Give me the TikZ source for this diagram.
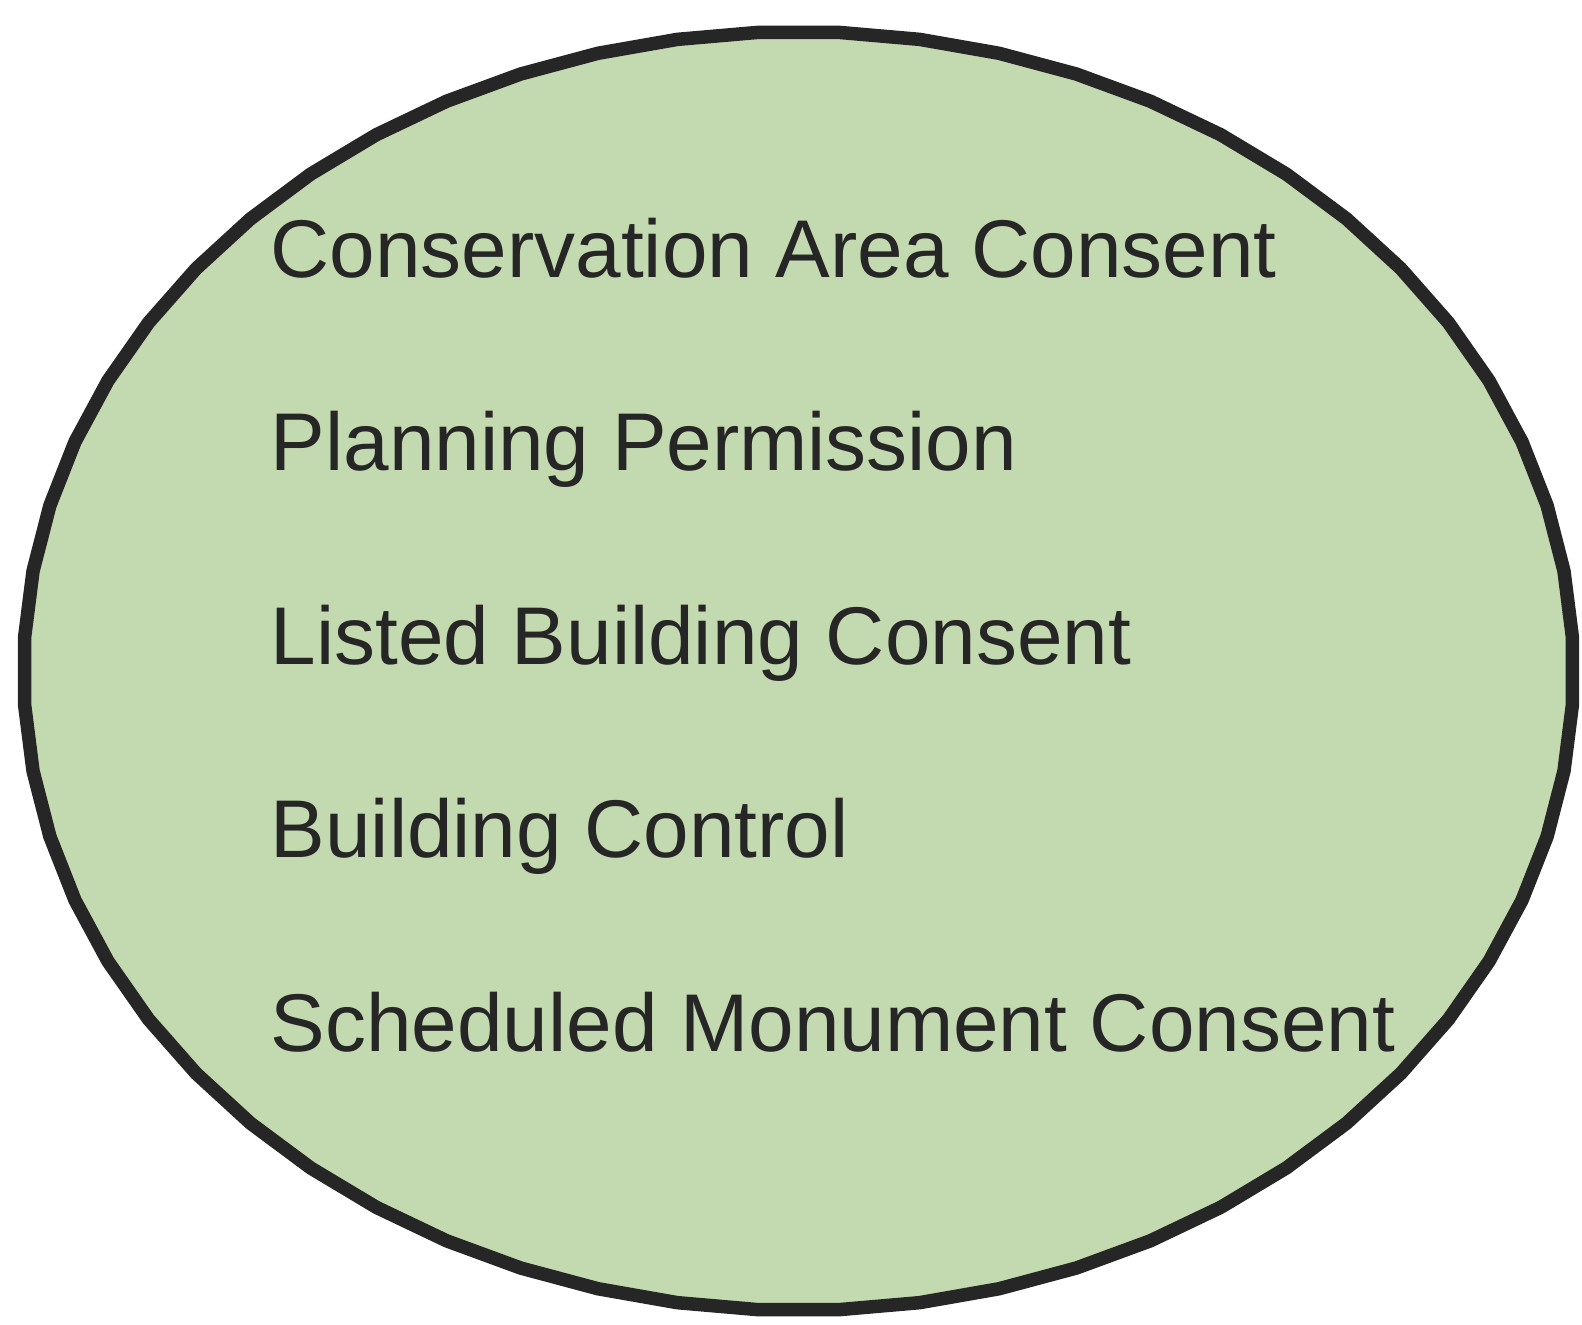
\documentclass[tikz,border=0pt]{standalone}
\usepackage{fontspec}
\setmainfont{Liberation Sans}
\usetikzlibrary{positioning}
\definecolor{consentgreen}{HTML}{C3DAB0}
\definecolor{consentink}{HTML}{262626}
\tikzset{
  consent/.style={anchor=base west, inner sep=0pt, text=consentink,
    font=\fontsize{23.3}{27}\selectfont}
}
\begin{document}
\begin{tikzpicture}
    \pgfmathsetmacro{\textX}{2.70}
    \pgfmathsetmacro{\textY}{-2.77}
    \pgfmathsetmacro{\lineGap}{1.935}
    \pgfmathsetmacro{\areaX}{7.985}
    \pgfmathsetmacro{\areaY}{-6.71}
    \pgfmathsetmacro{\areaRX}{7.75}
    \pgfmathsetmacro{\areaRY}{6.395}

    \useasboundingbox (0,0) rectangle (15.82,-13.24);

    % Outer ellipse (drawn as a polygon)
    \draw[line width=0.135cm, draw=consentink, fill=consentgreen, line join=round]
        plot[samples=61, domain=3:363] ({\areaX+\areaRX*cos(\x)},{\areaY+\areaRY*sin(\x)}) -- cycle;
    \node[minimum width=15.5cm, minimum height=12.8cm] (area) at (\areaX,\areaY) {};

    % Consents
    \node[consent] (conservation) at (\textX,\textY) {Conservation Area Consent};
    \node[consent] (planning) at (\textX,\textY-\lineGap) {Planning Permission};
    \node[consent] (listed) at (\textX,\textY-2*\lineGap) {Listed Building Consent};
    \node[consent] (control) at (\textX,\textY-3*\lineGap) {Building Control};
    \node[consent] (monument) at (\textX,\textY-4*\lineGap) {Scheduled Monument Consent};
\end{tikzpicture}
\end{document}
